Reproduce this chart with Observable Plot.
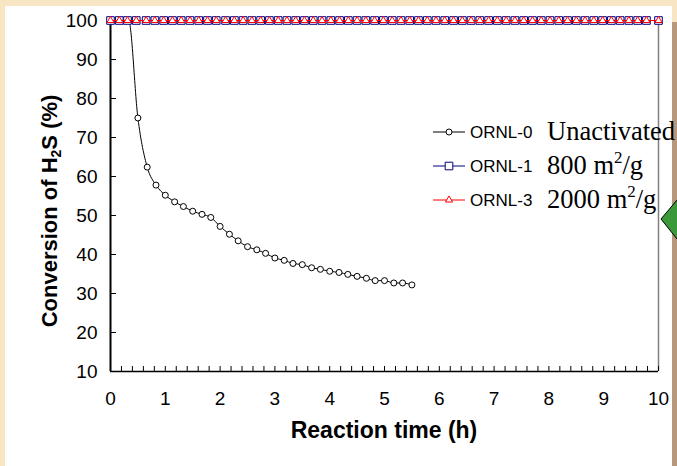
<!DOCTYPE html>
<html><head><meta charset="utf-8">
<script src="https://cdn.jsdelivr.net/npm/d3@7"></script>
<script src="https://cdn.jsdelivr.net/npm/@observablehq/plot@0.6"></script>
<style>
html,body{margin:0;padding:0;width:677px;height:466px;overflow:hidden;background:#f7e5c3;}
#panel{position:absolute;left:5px;top:6px;width:667px;height:460px;background:#fff;}
#strip{position:absolute;left:672px;top:22px;width:5px;height:444px;background:#b8987c;}
#chart{position:absolute;left:0;top:0;}
#deco{position:absolute;left:0;top:0;}
</style></head><body>
<div id="panel"></div><div id="strip"></div>
<svg id="deco" width="677" height="466"><polygon points="661,219 677,200 693,219 677,239" fill="#3a9a3a" stroke="#000" stroke-width="1"/></svg>
<div id="chart"></div>
<script>
// ---- data ----
const ornl0Time = [0, 0.17, 0.33, 0.5, 0.67, 0.83, 1, 1.17, 1.33, 1.5, 1.67, 1.83, 2, 2.17, 2.33, 2.5, 2.67, 2.83, 3, 3.17, 3.33, 3.5, 3.67, 3.83, 4, 4.17, 4.33, 4.5, 4.67, 4.83, 5, 5.17, 5.33, 5.5];
const ornl0Conv = [100, 100, 100, 75, 62.4, 57.8, 55.2, 53.5, 52.3, 51.1, 50.3, 49.5, 47.2, 45.2, 43.5, 42.0, 41.2, 40.3, 39.1, 38.5, 37.7, 37.4, 36.6, 36.2, 35.7, 35.4, 34.9, 34.4, 33.9, 33.3, 33.3, 32.7, 32.7, 32.2];
const ornl1Time = [0, 0.16, 0.31, 0.47, 0.65, 0.81, 0.97, 1.13, 1.29, 1.45, 1.61, 1.77, 1.93, 2.1, 2.26, 2.42, 2.58, 2.74, 2.9, 3.06, 3.22, 3.38, 3.54, 3.7, 3.86, 4.02, 4.18, 4.34, 4.5, 4.66, 4.82, 4.98, 5.14, 5.3, 5.46, 5.62, 5.78, 5.94, 6.1, 6.26, 6.42, 6.58, 6.74, 6.9, 7.06, 7.22, 7.38, 7.54, 7.7, 7.86, 8.02, 8.18, 8.34, 8.5, 8.66, 8.82, 8.98, 9.14, 9.3, 9.46, 9.62, 9.78, 10];
const ornl1Conv = ornl1Time.map(() => 100);
const ornl3Time = ornl1Time;
const ornl3Conv = ornl3Time.map(() => 100);
const xTicks = [0, 1, 2, 3, 4, 5, 6, 7, 8, 9, 10];
const xMinorTicks = d3.range(0, 10.001, 0.2);
const yTicks = [10, 20, 30, 40, 50, 60, 70, 80, 90, 100];
const seriesNames = ["ORNL-0", "ORNL-1", "ORNL-3"];
const seriesNotes = ["Unactivated", "800 m", "2000 m"];
const seriesColors = ["#000000", "#000080", "#ff0000"];

const ornl0 = ornl0Time.map((t, i) => ({t, c: ornl0Conv[i]}));
const ornl1 = ornl1Time.map((t, i) => ({t, c: ornl1Conv[i]}));
const ornl3 = ornl3Time.map((t, i) => ({t, c: ornl3Conv[i]}));

const W = 677, H = 466, mL = 110, mR = 19, mT = 20, mB = 95;
const plot = Plot.plot({
  width: W, height: H,
  marginLeft: mL, marginRight: mR, marginTop: mT, marginBottom: mB,
  style: {background: "transparent", fontFamily: "'Liberation Sans', Arial, sans-serif", fontSize: "19px", color: "#000", overflow: "visible"},
  x: {domain: [0, 10]},
  y: {domain: [10, 100]},
  marks: [
    Plot.ruleX([10], {stroke: "#808080", strokeWidth: 1.5}),
    Plot.tickX(xMinorTicks, {x: d => d, stroke: "#000", strokeWidth: 1, insetTop: (H - mT - mB) - 5}),
    Plot.tickY(yTicks, {y: d => d, stroke: "#000", strokeWidth: 1, insetRight: (W - mL - mR) - 6}),
    Plot.ruleY([10], {stroke: "#000", strokeWidth: 1.5}),
    Plot.ruleX([0], {stroke: "#000", strokeWidth: 2}),
    Plot.axisX(xTicks, {tickSize: 0, tickPadding: 20, label: null}),
    Plot.axisY(yTicks, {tickSize: 0, tickPadding: 13, label: null}),
    Plot.line(ornl0, {x: "t", y: "c", curve: "monotone-x", stroke: "#000", strokeWidth: 1}),
    Plot.dot(ornl0, {x: "t", y: "c", r: 3, stroke: "#000", fill: "#fff", strokeWidth: 1}),
    Plot.line(ornl1, {x: "t", y: "c", stroke: "#000080", strokeWidth: 1}),
    Plot.dot(ornl1, {x: "t", y: "c", symbol: "square", r: 4.3, stroke: "#000080", fill: "#fff", strokeWidth: 1}),
    Plot.line(ornl3, {x: "t", y: "c", stroke: "#ff0000", strokeWidth: 1}),
    Plot.dot(ornl3, {x: "t", y: "c", symbol: "triangle", r: 2.6, stroke: "#ff0000", fill: "#fff", strokeWidth: 1})
  ]
});
document.getElementById("chart").appendChild(plot);

const svg = d3.select(plot);
// axis titles
svg.append("text")
  .attr("x", (mL + W - mR) / 2).attr("y", 438)
  .attr("text-anchor", "middle")
  .style("font", "bold 23px 'Liberation Sans', Arial, sans-serif")
  .text("Reaction time (h)");
const yt = svg.append("text")
  .attr("transform", "translate(57,211) rotate(-90)")
  .attr("text-anchor", "middle")
  .style("font", "bold 22px 'Liberation Sans', Arial, sans-serif");
yt.append("tspan").text("Conversion of H");
yt.append("tspan").attr("font-size", "14px").attr("dy", 4).text("2");
yt.append("tspan").attr("dy", -4).text("S (%)");

// legend
const legY = [132, 166, 200];
const lg = svg.append("g").attr("text-anchor", "start");
seriesNames.forEach((name, i) => {
  const y = legY[i];
  lg.append("line").attr("x1", 433).attr("x2", 465).attr("y1", y).attr("y2", y)
    .attr("stroke", seriesColors[i]).attr("stroke-width", 1);
  const sym = [d3.symbolCircle, d3.symbolSquare, d3.symbolTriangle][i];
  const r = [3, 4.3, 2.6][i];
  lg.append("path").attr("transform", `translate(449,${y})`)
    .attr("d", d3.symbol(sym, Math.PI * r * r)())
    .attr("fill", "#fff").attr("stroke", seriesColors[i]).attr("stroke-width", 1);
  lg.append("text").attr("x", 470).attr("y", y).attr("dy", "0.35em").attr("text-anchor", "start")
    .style("font", "17px 'Liberation Sans', Arial, sans-serif").text(name);
  const t = lg.append("text").attr("x", 547).attr("y", y + 8).attr("text-anchor", "start")
    .style("font", "26.5px 'Liberation Serif', 'Times New Roman', serif");
  t.append("tspan").text(seriesNotes[i]);
  if (i > 0) {
    t.append("tspan").attr("font-size", "17px").attr("dy", -11).text("2");
    t.append("tspan").attr("dy", 11).text("/g");
  }
});
</script>
</body></html>
